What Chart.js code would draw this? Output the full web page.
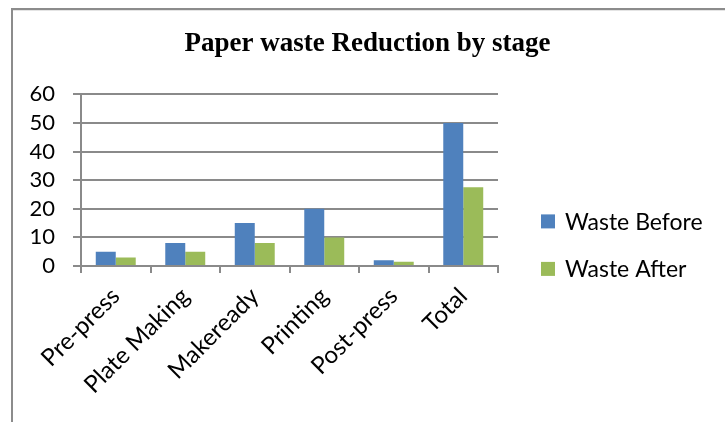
<!DOCTYPE html>
<html>
<head>
<meta charset="utf-8">
<script src="https://cdn.jsdelivr.net/npm/chart.js@4/dist/chart.umd.min.js"></script>
<style>
  html, body { margin: 0; padding: 0; background: #fff; }
  #wrap { position: relative; width: 725px; height: 422px; }
</style>
</head>
<body>
<div id="wrap"><canvas id="chart" width="725" height="422"></canvas></div>
<script>
// Paper waste per production stage, before and after the reduction programme
const stages = ['Pre-press', 'Plate Making', 'Makeready', 'Printing', 'Post-press', 'Total'];
const wasteBefore = [5, 8, 15, 20, 2, 50];
const wasteAfter = [3, 5, 8, 10, 1.5, 27.5];
const seriesNames = ['Waste Before', 'Waste After'];
const seriesColors = ['#4F81BD', '#9BBB59'];
const yTicks = [0, 10, 20, 30, 40, 50, 60];

const LABEL_FONT = 'Lato, "Open Sans", sans-serif';
const GRID = '#8a8a8a';

// Outer frame lines (top and left edge of the chart box)
const framePlugin = {
  id: 'frame',
  beforeDraw(chart) {
    const ctx = chart.ctx;
    ctx.save();
    ctx.fillStyle = '#ffffff';
    ctx.fillRect(0, 0, chart.width, chart.height);
    ctx.fillStyle = '#8c8c8c';
    ctx.fillRect(11, 8, chart.width - 11, 2);
    ctx.fillRect(11, 8, 2, chart.height - 8);
    ctx.fillStyle = '#e4e4e4';
    ctx.fillRect(13, 10, chart.width - 13, 1);
    ctx.restore();
  }
};

// Legend on the right, drawn from the dataset labels and colours
const sideLegend = {
  id: 'sideLegend',
  afterDraw(chart) {
    const ctx = chart.ctx;
    const area = chart.chartArea;
    ctx.save();
    ctx.font = '23px ' + LABEL_FONT;
    ctx.textBaseline = 'middle';
    ctx.textAlign = 'left';
    chart.data.datasets.forEach((ds, i) => {
      const cy = area.top + 127 + i * 47.5;
      const bx = area.right + 43;
      ctx.fillStyle = ds.backgroundColor;
      ctx.fillRect(bx, cy - 7, 14, 14);
      ctx.fillStyle = '#000';
      ctx.fillText(ds.label, bx + 24, cy + 1);
    });
    ctx.restore();
  }
};

new Chart(document.getElementById('chart'), {
  type: 'bar',
  data: {
    labels: stages,
    datasets: [
      { label: seriesNames[0], data: wasteBefore, backgroundColor: seriesColors[0] },
      { label: seriesNames[1], data: wasteAfter, backgroundColor: seriesColors[1] }
    ]
  },
  options: {
    responsive: false,
    animation: false,
    devicePixelRatio: 1,
    layout: { padding: { left: 10, right: 0, top: 0, bottom: 0 } },
    datasets: {
      bar: { categoryPercentage: 0.575, barPercentage: 1.0 }
    },
    plugins: {
      legend: { display: false },
      tooltip: { enabled: false },
      title: {
        display: true,
        text: 'Paper waste Reduction by stage',
        color: '#000',
        font: { family: '"Liberation Serif", "Times New Roman", serif', size: 27, weight: 'bold' },
        padding: { top: 28, bottom: 34 }
      }
    },
    scales: {
      x: {
        grid: {
          display: true,
          drawOnChartArea: false,
          drawTicks: true,
          tickLength: 7,
          color: GRID,
          lineWidth: 2,
          offset: true
        },
        border: { display: true, color: GRID, width: 2 },
        ticks: {
          color: '#000',
          font: { family: LABEL_FONT, size: 24 },
          maxRotation: 45,
          minRotation: 45,
          padding: 9,
          autoSkip: false
        },
        afterFit(scale) { scale.height = 156; }
      },
      y: {
        min: 0,
        max: 60,
        afterBuildTicks(scale) { scale.ticks = yTicks.map(v => ({ value: v })); },
        grid: {
          color: GRID,
          lineWidth: 2,
          tickLength: 8,
          drawTicks: true
        },
        border: { display: true, color: GRID, width: 2 },
        ticks: {
          color: '#000',
          font: { family: LABEL_FONT, size: 22 },
          padding: 18,
          autoSkip: false
        },
        afterFit(scale) { scale.width = 71; }
      },
      // empty band on the right that holds the legend
      legendBand: {
        position: 'right',
        display: true,
        grid: { display: false, drawTicks: false },
        border: { display: false },
        ticks: { display: false },
        afterFit(scale) { scale.width = 227; }
      }
    }
  },
  plugins: [framePlugin, sideLegend]
});
</script>
</body>
</html>
